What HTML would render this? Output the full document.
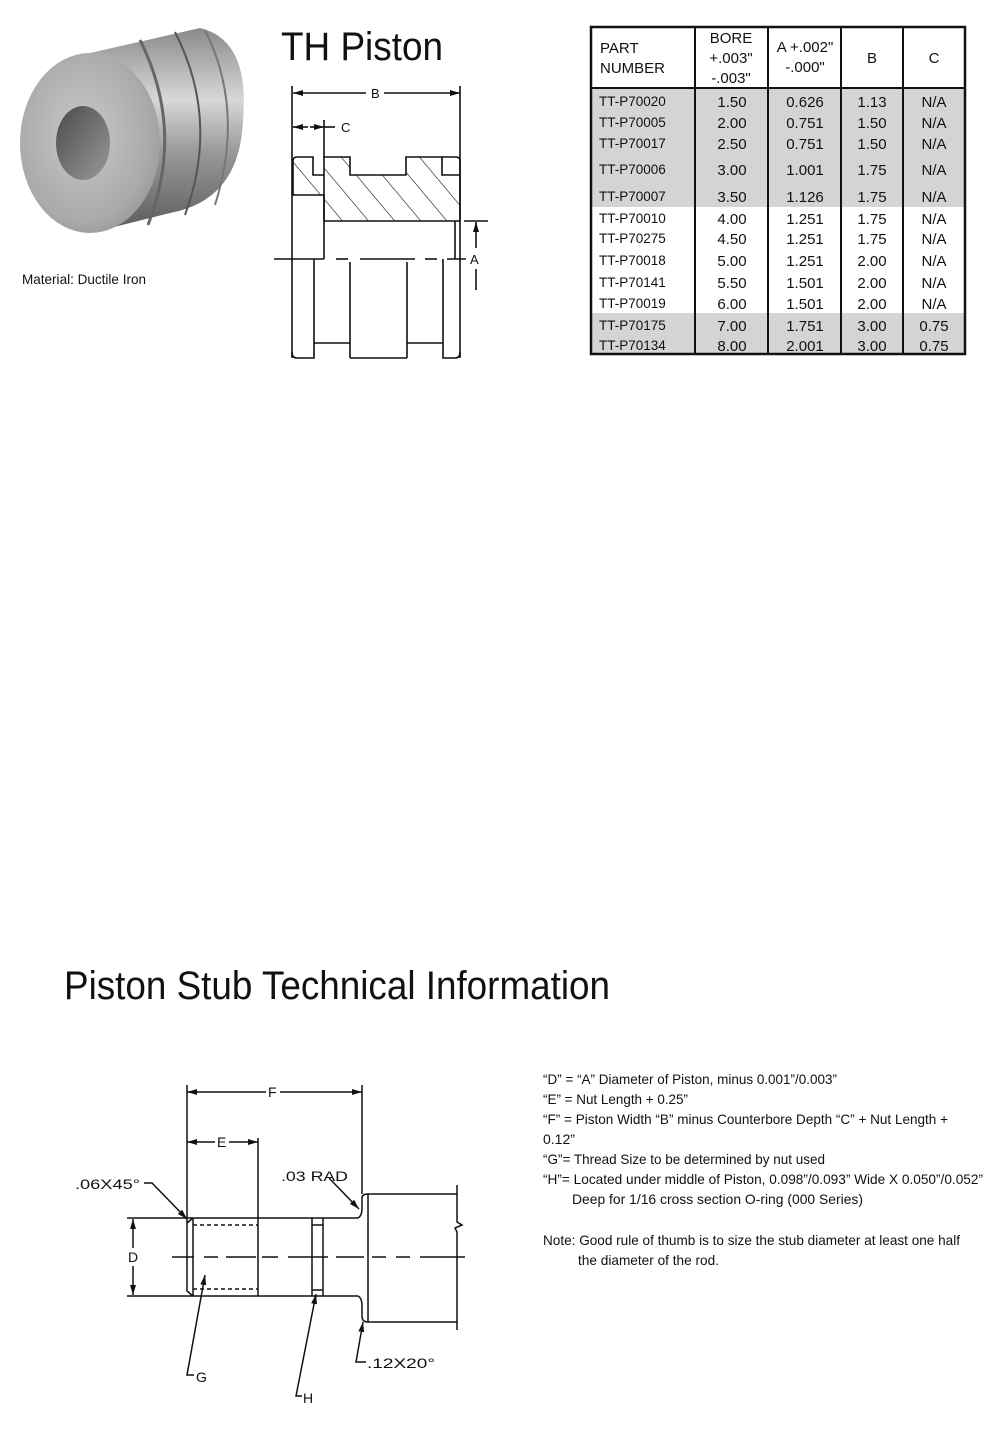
<!DOCTYPE html>
<html><head><meta charset="utf-8"><style>
html,body{margin:0;padding:0;background:#fff}
svg{display:block}
text{font-family:"Liberation Sans",Arial,sans-serif;fill:#111}
</style></head><body>
<svg width="1000" height="1431" viewBox="0 0 1000 1431" xmlns="http://www.w3.org/2000/svg">
<defs>
<linearGradient id="body" x1="0" y1="0" x2="0" y2="1">
<stop offset="0" stop-color="#8a8a8a"/><stop offset="0.35" stop-color="#d8d8d8"/><stop offset="0.6" stop-color="#9a9a9a"/><stop offset="1" stop-color="#5a5a5a"/></linearGradient>
<radialGradient id="face" cx="0.45" cy="0.45" r="0.7">
<stop offset="0" stop-color="#c9c9c9"/><stop offset="0.7" stop-color="#a9a9a9"/><stop offset="1" stop-color="#8a8a8a"/></radialGradient>
<linearGradient id="hole" x1="0" y1="0" x2="1" y2="1">
<stop offset="0" stop-color="#4a4a4a"/><stop offset="0.6" stop-color="#7a7a7a"/><stop offset="1" stop-color="#9a9a9a"/></linearGradient>
<marker id="ar" markerWidth="10" markerHeight="6" refX="10" refY="3" orient="auto-start-reverse" markerUnits="userSpaceOnUse"><path d="M0,0 L10,3 L0,6 z" fill="#111"/></marker>
<pattern id="hatch" patternUnits="userSpaceOnUse" width="20" height="20" patternTransform="rotate(-40)"><line x1="0" y1="0" x2="0" y2="20" stroke="#111" stroke-width="1.2"/></pattern>
</defs>

<!-- photo -->
<path d="M90,53 L200,28 Q250,40 243,120 Q240,200 170,213 L90,233 Z" fill="url(#body)"/>
<path d="M140,40 Q185,130 148,225" stroke="#666" stroke-width="3" fill="none"/>
<path d="M175,32 Q220,120 185,215" stroke="#555" stroke-width="2" fill="none"/>
<path d="M205,30 Q245,110 215,205" stroke="#777" stroke-width="2" fill="none"/>
<ellipse cx="90" cy="143" rx="70" ry="90" fill="url(#face)"/>
<ellipse cx="83" cy="143" rx="27" ry="37" fill="url(#hole)"/>
<text x="22" y="284" font-size="14" textLength="124" lengthAdjust="spacingAndGlyphs">Material: Ductile Iron</text>

<!-- TH Piston title -->
<text x="281" y="60" font-size="40" textLength="162" lengthAdjust="spacingAndGlyphs">TH Piston</text>

<!-- piston drawing -->
<g stroke="#111" stroke-width="1.6" fill="none">
<path d="M323,157 L350,157 L350,175 L406,175 L406,157 L442,157 L442,175 L460,175 L460,221 L324,221 L324,195 L293,195 L293,161 Q293,157 297,157 L313,157 L313,175 L324,175" fill="url(#hatch)"/>
<path d="M442,157 L456,157 Q460,157 460,161 L460,175"/>
<line x1="292" y1="86" x2="292" y2="358"/>
<line x1="460" y1="86" x2="460" y2="358"/>
<line x1="324" y1="120" x2="324" y2="259"/>
<line x1="455" y1="221" x2="455" y2="259"/>
<line x1="293" y1="93" x2="366" y2="93" marker-start="url(#ar)"/>
<line x1="384" y1="93" x2="460" y2="93" marker-end="url(#ar)"/>
<line x1="293" y1="127" x2="308" y2="127" marker-start="url(#ar)"/>
<line x1="324" y1="127" x2="310" y2="127" marker-start="url(#ar)"/>
<line x1="324" y1="127" x2="335" y2="127"/>
<line x1="274" y1="259" x2="324" y2="259"/>
<line x1="336" y1="259" x2="348" y2="259"/>
<line x1="360" y1="259" x2="415" y2="259"/>
<line x1="425" y1="259" x2="437" y2="259"/>
<line x1="447" y1="259" x2="466" y2="259"/>
<line x1="464" y1="221" x2="488" y2="221"/>
<line x1="476" y1="248" x2="476" y2="222" marker-end="url(#ar)"/>
<line x1="476" y1="269" x2="476" y2="290"/>
<path d="M292,352 Q292,358 297,358 L314,358 L314,259"/>
<path d="M460,352 Q460,358 455,358 L443,358 L443,259"/>
<line x1="350" y1="262" x2="350" y2="358"/>
<line x1="407" y1="262" x2="407" y2="358"/>
<line x1="350" y1="358" x2="407" y2="358"/>
<line x1="314" y1="343" x2="350" y2="343"/>
<line x1="407" y1="343" x2="443" y2="343"/>
</g>
<text x="371" y="98" font-size="13">B</text>
<text x="341" y="132" font-size="13">C</text>
<text x="470" y="264" font-size="13">A</text>

<!-- table -->
<rect x="591" y="88" width="374" height="119" fill="#d4d4d4"/>
<rect x="591" y="313" width="374" height="40" fill="#d4d4d4"/>
<g stroke="#111" fill="none">
<rect x="591" y="27" width="374" height="327" stroke-width="2.5"/>
<line x1="591" y1="88" x2="965" y2="88" stroke-width="2"/>
<line x1="695" y1="27" x2="695" y2="354" stroke-width="2"/>
<line x1="768" y1="27" x2="768" y2="354" stroke-width="2"/>
<line x1="841" y1="27" x2="841" y2="354" stroke-width="2"/>
<line x1="903" y1="27" x2="903" y2="354" stroke-width="2"/>
</g>
<g font-size="15">
<text x="600" y="53">PART</text><text x="600" y="73">NUMBER</text>
<text x="731" y="43" text-anchor="middle">BORE</text><text x="731" y="63" text-anchor="middle">+.003"</text><text x="731" y="83" text-anchor="middle">-.003"</text>
<text x="805" y="52" text-anchor="middle">A +.002"</text><text x="805" y="72" text-anchor="middle">-.000"</text>
<text x="872" y="63" text-anchor="middle">B</text><text x="934" y="63" text-anchor="middle">C</text>
</g>
<g font-size="13.5">
<text x="599" y="106">TT-P70020</text><text x="599" y="127">TT-P70005</text><text x="599" y="148">TT-P70017</text><text x="599" y="174">TT-P70006</text><text x="599" y="201">TT-P70007</text><text x="599" y="223">TT-P70010</text><text x="599" y="243">TT-P70275</text><text x="599" y="265">TT-P70018</text><text x="599" y="287">TT-P70141</text><text x="599" y="308">TT-P70019</text><text x="599" y="330">TT-P70175</text><text x="599" y="350">TT-P70134</text>
</g>
<g font-size="15" text-anchor="middle">
<text x="732" y="107">1.50</text><text x="805" y="107">0.626</text><text x="872" y="107">1.13</text><text x="934" y="107">N/A</text>
<text x="732" y="128">2.00</text><text x="805" y="128">0.751</text><text x="872" y="128">1.50</text><text x="934" y="128">N/A</text>
<text x="732" y="149">2.50</text><text x="805" y="149">0.751</text><text x="872" y="149">1.50</text><text x="934" y="149">N/A</text>
<text x="732" y="175">3.00</text><text x="805" y="175">1.001</text><text x="872" y="175">1.75</text><text x="934" y="175">N/A</text>
<text x="732" y="202">3.50</text><text x="805" y="202">1.126</text><text x="872" y="202">1.75</text><text x="934" y="202">N/A</text>
<text x="732" y="224">4.00</text><text x="805" y="224">1.251</text><text x="872" y="224">1.75</text><text x="934" y="224">N/A</text>
<text x="732" y="244">4.50</text><text x="805" y="244">1.251</text><text x="872" y="244">1.75</text><text x="934" y="244">N/A</text>
<text x="732" y="266">5.00</text><text x="805" y="266">1.251</text><text x="872" y="266">2.00</text><text x="934" y="266">N/A</text>
<text x="732" y="288">5.50</text><text x="805" y="288">1.501</text><text x="872" y="288">2.00</text><text x="934" y="288">N/A</text>
<text x="732" y="309">6.00</text><text x="805" y="309">1.501</text><text x="872" y="309">2.00</text><text x="934" y="309">N/A</text>
<text x="732" y="331">7.00</text><text x="805" y="331">1.751</text><text x="872" y="331">3.00</text><text x="934" y="331">0.75</text>
<text x="732" y="351">8.00</text><text x="805" y="351">2.001</text><text x="872" y="351">3.00</text><text x="934" y="351">0.75</text>
</g>

<!-- Stub title -->
<text x="64" y="999" font-size="40" textLength="546" lengthAdjust="spacingAndGlyphs">Piston Stub Technical Information</text>

<!-- stub drawing -->
<g stroke="#111" stroke-width="1.5" fill="none">
<line x1="127" y1="1218" x2="358" y2="1218"/>
<line x1="127" y1="1296" x2="358" y2="1296"/>
<path d="M187,1218 L187,1291 L193,1296"/>
<path d="M187,1223 L193,1218"/>
<line x1="193" y1="1218" x2="193" y2="1296"/>
<line x1="193" y1="1225" x2="258" y2="1225" stroke-dasharray="4,3"/>
<line x1="193" y1="1289" x2="258" y2="1289" stroke-dasharray="4,3"/>
<line x1="258" y1="1138" x2="258" y2="1296"/>
<line x1="187" y1="1085" x2="187" y2="1218"/>
<line x1="362" y1="1085" x2="362" y2="1194"/>
<path d="M312,1218 L312,1296 M323,1218 L323,1296 M312,1225 L323,1225 M312,1290 L323,1290"/>
<path d="M358,1218 Q362,1216 362,1208 L362,1198 Q362,1194 368,1194 L457,1194"/>
<path d="M358,1296 Q362,1298 362,1306 L362,1316 Q362,1322 368,1322 L457,1322"/>
<line x1="368" y1="1194" x2="368" y2="1322"/>
<path d="M457,1185 L457,1222 L462,1225 L455,1228 L457,1232 L457,1330"/>
<line x1="133" y1="1248" x2="133" y2="1219" marker-end="url(#ar)"/>
<line x1="133" y1="1266" x2="133" y2="1295" marker-end="url(#ar)"/>
<line x1="187" y1="1092" x2="266" y2="1092" marker-start="url(#ar)"/>
<line x1="280" y1="1092" x2="362" y2="1092" marker-end="url(#ar)"/>
<line x1="187" y1="1142" x2="215" y2="1142" marker-start="url(#ar)"/>
<line x1="229" y1="1142" x2="258" y2="1142" marker-end="url(#ar)"/>
<path d="M172,1257 h22 M204,1257 h14 M226,1257 h30 M262,1257 h16 M288,1257 h40 M336,1257 h28 M372,1257 h14 M396,1257 h14 M420,1257 h45"/>
<path d="M144,1183 L152,1183 L187,1219" marker-end="url(#ar)"/>
<path d="M329,1178 L359,1209" marker-end="url(#ar)"/>
<path d="M205,1275 L187,1375 L194,1375" marker-start="url(#ar)"/>
<path d="M316,1294 L296,1396 L302,1396" marker-start="url(#ar)"/>
<path d="M363,1322 L356,1362 L366,1362" marker-start="url(#ar)"/>
</g>
<g font-size="14">
<text x="75" y="1189" textLength="65" lengthAdjust="spacingAndGlyphs">.06X45°</text>
<text x="281" y="1181" textLength="67" lengthAdjust="spacingAndGlyphs">.03  RAD</text>
<text x="367" y="1368" textLength="68" lengthAdjust="spacingAndGlyphs">.12X20°</text>
</g>
<g font-size="14">
<text x="268" y="1097">F</text>
<text x="217" y="1147">E</text>
<text x="128" y="1262">D</text>
<text x="196" y="1382">G</text>
<text x="303" y="1403">H</text>
</g>

<!-- notes -->
<g font-size="14">
<text x="543" y="1084" textLength="294" lengthAdjust="spacingAndGlyphs">“D” = “A” Diameter of Piston, minus 0.001”/0.003”</text>
<text x="543" y="1104" textLength="145" lengthAdjust="spacingAndGlyphs">“E” = Nut Length + 0.25”</text>
<text x="543" y="1124" textLength="405" lengthAdjust="spacingAndGlyphs">“F” = Piston Width “B” minus Counterbore Depth “C” + Nut Length +</text>
<text x="543" y="1144">0.12”</text>
<text x="543" y="1164" textLength="282" lengthAdjust="spacingAndGlyphs">“G”= Thread Size to be determined by nut used</text>
<text x="543" y="1184" textLength="440" lengthAdjust="spacingAndGlyphs">“H”= Located under middle of Piston, 0.098”/0.093” Wide X 0.050”/0.052”</text>
<text x="572" y="1204" textLength="291" lengthAdjust="spacingAndGlyphs">Deep for 1/16 cross section O-ring (000 Series)</text>
<text x="543" y="1245" textLength="417" lengthAdjust="spacingAndGlyphs">Note: Good rule of thumb is to size the stub diameter at least one half</text>
<text x="578" y="1265" textLength="141" lengthAdjust="spacingAndGlyphs">the diameter of the rod.</text>
</g>
</svg>
</body></html>
